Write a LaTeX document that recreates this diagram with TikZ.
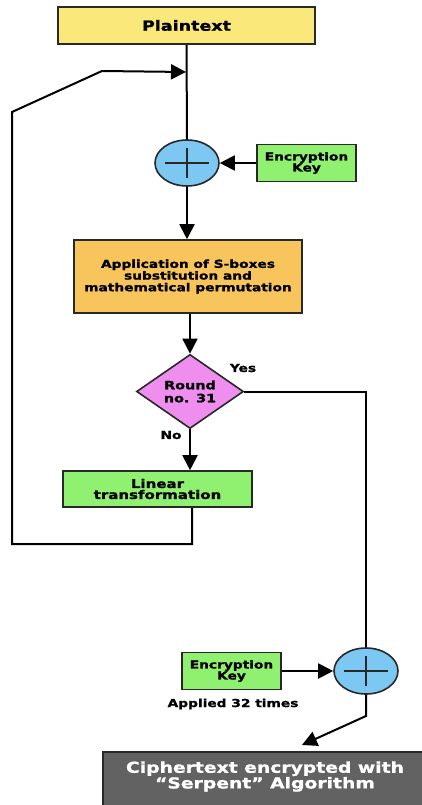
\documentclass[tikz,border=0pt]{standalone}
\usepackage{fontspec}
\usetikzlibrary{shapes.geometric,arrows.meta}
\newfontfamily\djb{DejaVu Sans Bold}[FakeStretch=1.25,FakeBold=1.2]
\definecolor{cyell}{RGB}{250,232,122}
\definecolor{corange}{RGB}{248,196,92}
\definecolor{cgreen}{RGB}{144,240,112}
\definecolor{cblue}{RGB}{124,200,242}
\definecolor{cviolet}{RGB}{240,142,240}
\definecolor{cgray}{RGB}{98,98,98}
\definecolor{cedge}{RGB}{40,40,40}
\begin{document}
\begin{tikzpicture}[x=1pt,y=-1pt,
  every node/.style={font=\djb, inner sep=0pt, align=center},
  boxnode/.style={draw=cedge, line width=1.6pt, anchor=center},
  xornode/.style={ellipse, draw=cedge, line width=1.6pt, fill=cblue, minimum width=64pt, minimum height=46pt},
  conn/.style={line width=2pt, black},
  arr/.style={conn, -{Triangle[length=15pt,width=15pt]}},
  lbl/.style={font=\djb\fontsize{11}{12}\selectfont}
]
\useasboundingbox (0,0) rectangle (422,805);
\fill[white] (0,0) rectangle (422,805);
\clip (0,0) rectangle (422,805);

% nodes
\node[boxnode, fill=cyell, minimum width=257pt, minimum height=37pt, font=\djb\fontsize{14}{15}\selectfont] (plain) at (186.5,25.5) {Plaintext};
\node[xornode] (x1) at (187,163) {};
\node[boxnode, fill=cgreen, minimum width=99pt, minimum height=37pt, font=\djb\fontsize{11}{11}\selectfont] (key1) at (306.5,163) {Encryption\\Key};
\node[boxnode, fill=corange, minimum width=228pt, minimum height=73pt, font=\djb\fontsize{11}{11.7}\selectfont] (sbox) at (188,276.5) {Application of S-boxes\\substitution and\\mathematical permutation};
\node[diamond, draw=cedge, line width=1.6pt, fill=cviolet, minimum width=107pt, minimum height=71pt, font=\djb\fontsize{11.5}{13}\selectfont] (dia) at (190,391.5) {Round\\no. 31};
\node[boxnode, fill=cgreen, minimum width=189pt, minimum height=36pt, font=\djb\fontsize{12}{11}\selectfont] (lin) at (157.5,489) {Linear\\transformation};
\node[xornode] (x2) at (366,671) {};
\node[boxnode, fill=cgreen, minimum width=99pt, minimum height=37pt, font=\djb\fontsize{11}{11}\selectfont] (key2) at (231.5,671) {Encryption\\Key};
\node[lbl] (applied) at (233,704) {Applied 32 times};
\node[boxnode, fill=cgray, text=white, minimum width=340pt, minimum height=90pt, anchor=north west, text width=330pt] (cipher) at (102,751) {};
\node[font=\djb\fontsize{15}{13.3}\selectfont, text=white] (ciphertxt) at (265,776.5) {Ciphertext encrypted with\\“Serpent” Algorithm};
\node[lbl] (yes) at (243,368) {Yes};
\node[lbl] (no) at (171,435) {No};

% plus signs inside XOR nodes
\foreach \n in {x1,x2}{
  \draw[line width=1.6pt, cedge] ([xshift=-22pt]\n.center) -- ([xshift=22pt]\n.center);
  \draw[line width=1.6pt, cedge] ([yshift=-15pt]\n.center) -- ([yshift=15pt]\n.center);
}

% coordinates
\coordinate (joinA) at (186,72);
\coordinate (fb1) at (192,544);
\coordinate (fb2) at (12,544);
\coordinate (fb3) at (12,112);
\coordinate (fb4) at (102,71);
\coordinate (yc) at (366,391.5);
\coordinate (dc) at (366,716);
\coordinate (ce) at (302,745);

% connectors
\draw[conn] (plain.south) -- (x1.north);
\draw[arr] (fb1 |- lin.south) -- (fb1) -- (fb2) -- (fb3) -- (fb4) -- (joinA);
\draw[arr] (key1.west) -- (x1.east);
\draw[arr] (x1.south) -- (sbox.north -| x1.south);
\draw[arr] (sbox.south -| dia.north) -- (dia.north);
\draw[arr] (dia.south) -- (dia.south |- lin.north);
\draw[conn] (dia.east) -- (yc) -- (x2.north);
\draw[arr] (key2.east) -- (x2.west);
\draw[arr] (x2.south) -- (dc) -- (ce);
\end{tikzpicture}
\end{document}
